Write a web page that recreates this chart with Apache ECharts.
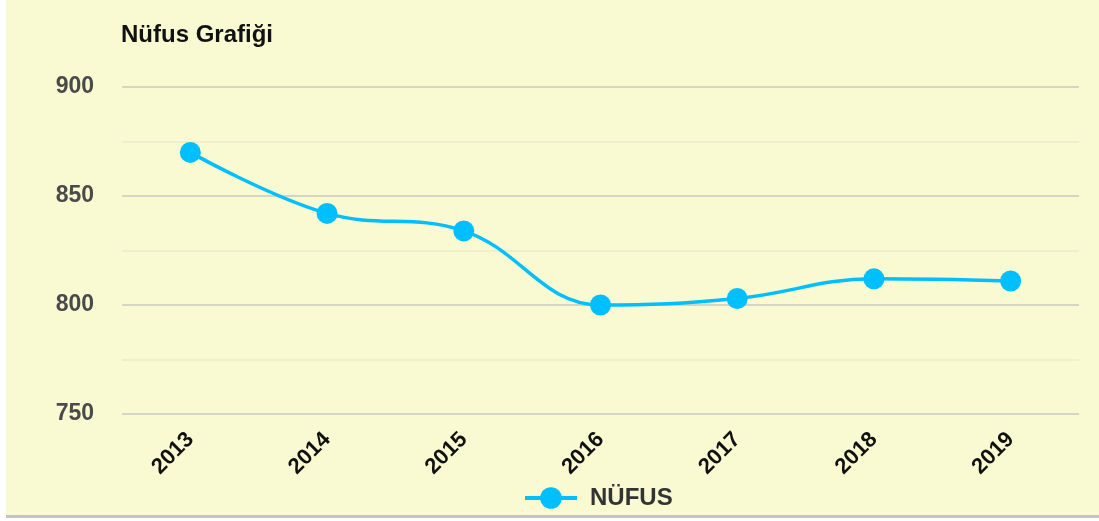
<!DOCTYPE html>
<html>
<head>
<meta charset="utf-8">
<script src="https://cdn.jsdelivr.net/npm/echarts@6/dist/echarts.min.js"></script>
<style>
html,body{margin:0;padding:0;background:#fff;}
#wrap{position:absolute;left:6px;top:0;width:1093px;height:515px;background:#f9f9d2;border-bottom:3px solid #c4c4c4;}
#chart{width:1093px;height:515px;}
</style>
</head>
<body>
<div id="wrap"><div id="chart"></div></div>
<script>
const categories = ['2013','2014','2015','2016','2017','2018','2019'];
const nufus = [870, 842, 834, 800, 803, 812, 811];
const seriesName = 'NÜFUS';
const titleText = 'Nüfus Grafiği';

const chart = echarts.init(document.getElementById('chart'), null, {renderer:'canvas'});
chart.setOption({
  backgroundColor: 'transparent',
  animation: false,
  textStyle: {fontFamily: 'Liberation Sans, Arial, sans-serif'},
  title: {
    text: titleText, left: 110, top: 18,
    textStyle: {fontSize: 24, fontWeight: 'bold', color: '#111', fontFamily: 'Liberation Sans, Arial, sans-serif'}
  },
  legend: {
    bottom: 0, left: 512,
    data: [seriesName],
    itemWidth: 52, itemHeight: 27,
    lineStyle: {width: 4},
    textStyle: {fontSize: 24, fontWeight: 'bold', color: '#333', padding: [0, 0, 0, 8]}
  },
  grid: {left: 116, right: 20, top: 87, bottom: 101, containLabel: false},
  xAxis: {
    type: 'category', data: categories, boundaryGap: true,
    axisLine: {show: false}, axisTick: {show: false},
    axisLabel: {rotate: 45, fontSize: 22, fontWeight: 'bold', color: '#111', margin: 22}
  },
  yAxis: {
    type: 'value', min: 750, max: 900, interval: 50,
    axisLine: {show: false}, axisTick: {show: false},
    axisLabel: {fontSize: 23, fontWeight: 'bold', color: '#4a4a4a', margin: 28},
    splitLine: {lineStyle: {color: '#c9c9c2', width: 1.5}},
    minorTick: {show: false, splitNumber: 2},
    minorSplitLine: {show: true, lineStyle: {color: '#ecebc6', width: 1.5}}
  },
  series: [{
    name: seriesName, type: 'line', data: nufus, smooth: 0.4,
    symbol: 'circle', symbolSize: 21,
    lineStyle: {color: '#00bfff', width: 3.5},
    itemStyle: {color: '#00bfff'}
  }]
});
</script>
</body>
</html>
